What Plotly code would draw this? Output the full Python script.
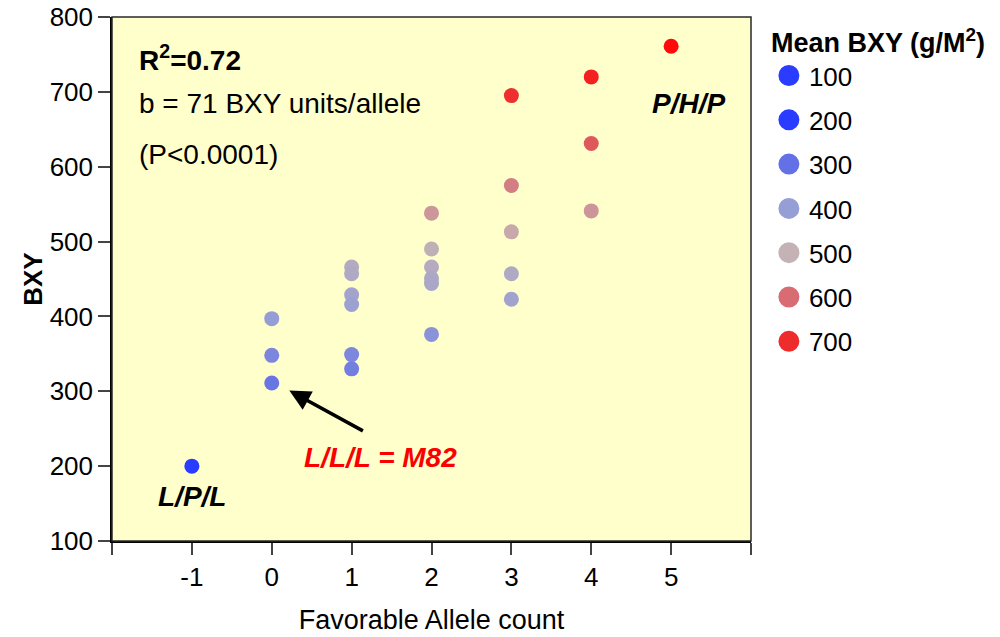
import plotly.graph_objects as go
from plotly.colors import sample_colorscale

# favorable allele count vs. BXY
allele_count = [-1, 0, 0, 0, 1, 1, 1, 1, 1, 1, 2, 2, 2, 2, 2, 2, 3, 3, 3, 3, 3, 4, 4, 4, 5]
bxy = [200, 397, 348, 311, 466, 457, 429, 416, 349, 330,
       538, 490, 466, 451, 444, 376, 695, 575, 513, 457, 423,
       720, 631, 541, 761]

legend_values = [100, 200, 300, 400, 500, 600, 700]
x_ticks = [-2, -1, 0, 1, 2, 3, 4, 5, 6]
x_ticktext = ['', '-1', '0', '1', '2', '3', '4', '5', '']
y_ticks = [100, 200, 300, 400, 500, 600, 700, 800]

CMIN, CMAX = 100, 760
SCALE = [
    [0.0, 'rgb(42,60,255)'],
    [0.1515, 'rgb(42,60,255)'],
    [0.303, 'rgb(100,112,230)'],
    [0.4545, 'rgb(150,158,214)'],
    [0.606, 'rgb(196,178,180)'],
    [0.7576, 'rgb(216,108,114)'],
    [0.909, 'rgb(238,44,44)'],
    [1.0, 'rgb(255,10,10)'],
]
FONT = 'Liberation Sans, Arial, sans-serif'

fig = go.Figure()

fig.add_trace(go.Scatter(
    x=allele_count, y=bxy, mode='markers', showlegend=False,
    marker={'size': 15, 'color': bxy, 'colorscale': SCALE,
            'cmin': CMIN, 'cmax': CMAX, 'line': {'width': 0}}))

# legend entries, coloured through the same scale
legend_colors = sample_colorscale(SCALE, [(v - CMIN) / (CMAX - CMIN) for v in legend_values])
for v, c in zip(legend_values, legend_colors):
    fig.add_trace(go.Scatter(
        x=[None], y=[None], mode='markers', name=str(v), legendgroup=str(v),
        marker={'size': 16, 'color': c, 'line': {'color': c, 'width': 5}}))

annots = [
    dict(x=-1.69, y=745, text='<b>R<sup>2</sup>=0.72</b>', xanchor='left'),
    dict(x=-1.69, y=685, text='b = 71 BXY units/allele', xanchor='left'),
    dict(x=-1.69, y=616, text='(P&lt;0.0001)', xanchor='left'),
    dict(x=5.22, y=685, text='<b><i>P/H/P</i></b>'),
    dict(x=-1.0, y=159, text='<b><i>L/P/L</i></b>'),
    dict(x=1.36, y=212, text='<b><i>L/L/L = M82</i></b>',
         font={'color': 'rgb(250,0,0)', 'size': 28, 'family': FONT}),
]
for a in annots:
    a.setdefault('font', {'size': 28, 'color': 'black', 'family': FONT})
    fig.add_annotation(showarrow=False, xref='x', yref='y', **a)

fig.add_annotation(x=0.22, y=301, ax=1.16, ay=246, xref='x', yref='y', axref='x', ayref='y',
                   text='', showarrow=True, arrowhead=2, arrowsize=1.2, arrowwidth=3.5,
                   arrowcolor='black')

# plot frame
fig.add_shape(type='rect', xref='x domain', yref='y domain', x0=0, x1=1, y0=0, y1=1,
              line={'color': 'rgb(40,40,40)', 'width': 1.5}, layer='above')

fig.update_layout(
    width=1000, height=637,
    margin={'l': 112, 'r': 237, 't': 17, 'b': 96},
    paper_bgcolor='white',
    plot_bgcolor='rgb(255,255,204)',
    font={'family': FONT, 'size': 26, 'color': 'black'},
    xaxis={'range': [-2, 6], 'automargin': False,
           'tickvals': x_ticks, 'ticktext': x_ticktext, 'ticks': 'outside', 'ticklen': 12,
           'tickwidth': 1.5, 'showline': True, 'linecolor': 'black', 'linewidth': 1.5,
           'showgrid': False, 'zeroline': False, 'tickfont': {'size': 26},
           'title': {'text': 'Favorable Allele count', 'standoff': 19, 'font': {'size': 27}}},
    yaxis={'range': [100, 800], 'automargin': False,
           'tickvals': y_ticks, 'ticks': 'outside', 'ticklen': 12, 'tickwidth': 1.5,
           'showline': True, 'linecolor': 'black', 'linewidth': 1.5,
           'showgrid': False, 'zeroline': False, 'tickfont': {'size': 26},
           'title': {'text': '<b>BXY</b>', 'standoff': 0, 'font': {'size': 26}}},
    legend={'x': 1.028, 'xanchor': 'left', 'y': 1.0, 'yanchor': 'top',
            'title': {'text': '<b>Mean BXY (g/M<sup>2</sup>)</b>', 'font': {'size': 27}},
            'font': {'size': 26}, 'tracegroupgap': 7.5, 'itemsizing': 'trace',
            'bgcolor': 'rgba(0,0,0,0)'},
)

# drop the default page margin / scrollbars so the figure sits at the window's corner
fig.write_html('out.html', config={'displayModeBar': False},
               post_script="document.body.style.margin='0px';"
                           "document.body.style.overflow='hidden';")
